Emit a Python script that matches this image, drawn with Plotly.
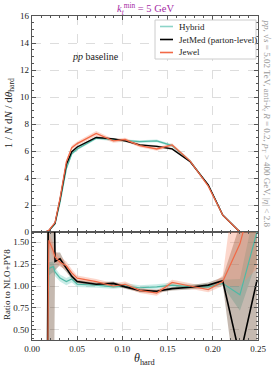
import plotly.graph_objects as go
from plotly.subplots import make_subplots

# ---------------- data ----------------
theta_top = [0.0, 0.0144, 0.0186, 0.0255, 0.031, 0.038, 0.044, 0.050, 0.071, 0.090,
             0.103, 0.119, 0.138, 0.155, 0.175, 0.195, 0.211, 0.230, 0.249]
jetmed_top = [0, 0, 0.10, 0.65, 2.4, 5.0, 5.95, 6.3, 7.0, 6.9, 6.75, 6.45, 6.35, 6.15, 5.2, 3.5, 1.26, 0, 0]
hybrid_top = [0, 0, 0.08, 0.60, 2.2, 4.7, 5.8, 6.15, 6.95, 6.85, 6.75, 6.7, 6.75, 6.4, 5.25, 3.45, 1.25, 0, 0]
jewel_top = [0, 0, 0.12, 0.70, 2.5, 5.2, 6.25, 6.55, 7.3, 6.75, 6.85, 6.4, 6.15, 6.45, 5.25, 3.4, 1.25, 0, 0]
jetmed_top_err = [0, 0, 0.02, 0.05, 0.08, 0.08, 0.08, 0.08, 0.08, 0.07, 0.07, 0.07, 0.07, 0.07, 0.06, 0.05, 0.03, 0, 0]
hybrid_top_err = [0, 0, 0.02, 0.05, 0.08, 0.1, 0.1, 0.1, 0.1, 0.1, 0.1, 0.1, 0.1, 0.1, 0.08, 0.06, 0.04, 0, 0]
jewel_top_err = [0, 0, 0.03, 0.06, 0.12, 0.15, 0.15, 0.15, 0.18, 0.14, 0.14, 0.13, 0.13, 0.13, 0.11, 0.09, 0.06, 0, 0]

theta_ratio = [0.0165, 0.0186, 0.0235, 0.0255, 0.031, 0.038, 0.044, 0.050, 0.071, 0.090,
               0.103, 0.119, 0.138, 0.155, 0.175, 0.195, 0.211, 0.230, 0.249]
jetmed_ratio = [-1.0, 3.0, 3.0, 1.28, 1.31, 1.20, 1.11, 1.05, 1.02, 1.03, 0.99, 0.95, 0.94, 0.97, 0.985, 1.01, 1.06, 0.2, 1.07]
jetmed_lo = [-1, -1, -1, 1.18, 1.24, 1.16, 1.08, 1.03, 1.0, 1.01, 0.97, 0.93, 0.92, 0.95, 0.96, 0.98, 1.02, -0.5, -1]
jetmed_hi = [3, 3, 3, 1.38, 1.38, 1.24, 1.14, 1.07, 1.04, 1.05, 1.01, 0.97, 0.96, 0.99, 1.01, 1.04, 1.10, 1.7, 3]
jewel_ratio = [-1.0, 1.52, 1.40, 1.33, 1.27, 1.23, 1.15, 1.09, 1.05, 1.00, 1.02, 0.95, 0.92, 1.04, 1.00, 0.96, 1.05, 1.48, 2.2]
jewel_lo = [-1, 1.45, 1.32, 1.27, 1.22, 1.19, 1.12, 1.06, 1.02, 0.98, 0.99, 0.92, 0.89, 1.01, 0.97, 0.93, 1.00, 1.0, 1.2]
jewel_hi = [3, 1.60, 1.48, 1.40, 1.33, 1.28, 1.19, 1.12, 1.08, 1.03, 1.05, 0.98, 0.95, 1.07, 1.03, 0.99, 1.12, 2.6, 3]
hybrid_ratio = [-1.0, 1.20, 1.22, 1.16, 1.09, 1.05, 1.08, 1.02, 1.01, 0.99, 1.00, 0.98, 0.99, 1.01, 0.99, 0.99, 1.03, 0.90, 1.62]
hybrid_lo = [-1, 1.12, 1.16, 1.11, 1.05, 1.01, 1.04, 0.99, 0.98, 0.97, 0.98, 0.96, 0.97, 0.99, 0.97, 0.97, 1.0, 0.72, 1.3]
hybrid_hi = [3, 1.27, 1.28, 1.21, 1.13, 1.09, 1.12, 1.05, 1.04, 1.02, 1.03, 1.01, 1.02, 1.04, 1.02, 1.02, 1.07, 1.08, 2.0]

x_ticks = [0.00, 0.05, 0.10, 0.15, 0.20, 0.25]
x_ticklabels = ["0.00", "0.05", "0.10", "0.15", "0.20", "0.25"]
top_ticks = [0, 2, 4, 6, 8, 10, 12, 14, 16]
ratio_ticks = [0.50, 0.75, 1.00, 1.25, 1.50]
ratio_ticklabels = ["0.50", "0.75", "1.00", "1.25", "1.50"]
legend_names = ["Hybrid", "JetMed (parton-level)", "Jewel"]

# ---------------- style ----------------
FONT = "Liberation Serif"
C_HYB = "rgb(80,185,165)"
C_HYB_LEG = "rgb(140,212,200)"
C_HYB_BAND = "rgba(100,200,185,0.35)"
C_JM = "rgb(0,0,0)"
C_JM_BAND = "rgba(90,55,30,0.35)"
C_JW = "rgb(242,105,70)"
C_JW_BAND = "rgba(245,140,110,0.35)"

fig = make_subplots(rows=2, cols=1, shared_xaxes=True, vertical_spacing=0,
                    row_heights=[0.6667, 0.3333])


def band(x, lo, hi, color, row):
    fig.add_trace(go.Scatter(x=list(x) + list(x)[::-1], y=list(hi) + list(lo)[::-1],
                             fill="toself", fillcolor=color, mode="none",
                             line=dict(width=0), showlegend=False, hoverinfo="skip"),
                  row=row, col=1)


# top bands
for y, e, c in [(hybrid_top, hybrid_top_err, C_HYB_BAND), (jetmed_top, jetmed_top_err, C_JM_BAND),
                (jewel_top, jewel_top_err, C_JW_BAND)]:
    band(theta_top, [a - b for a, b in zip(y, e)], [a + b for a, b in zip(y, e)], c, 1)

fig.add_trace(go.Scatter(x=theta_top, y=hybrid_top, mode="lines", name=legend_names[0],
                         showlegend=False, line=dict(color=C_HYB, width=1.3)), row=1, col=1)
fig.add_trace(go.Scatter(x=theta_top, y=jetmed_top, mode="lines", name=legend_names[1],
                         showlegend=False, line=dict(color=C_JM, width=1.3)), row=1, col=1)
fig.add_trace(go.Scatter(x=theta_top, y=jewel_top, mode="lines", name=legend_names[2],
                         showlegend=False, line=dict(color=C_JW, width=1.3)), row=1, col=1)

# ratio bands
band(theta_ratio, hybrid_lo, hybrid_hi, C_HYB_BAND, 2)
band(theta_ratio, jetmed_lo, jetmed_hi, C_JM_BAND, 2)
band(theta_ratio, jewel_lo, jewel_hi, C_JW_BAND, 2)

fig.add_trace(go.Scatter(x=theta_ratio, y=hybrid_ratio, mode="lines", showlegend=False,
                         line=dict(color=C_HYB, width=1.2)), row=2, col=1)
fig.add_trace(go.Scatter(x=theta_ratio, y=jetmed_ratio, mode="lines", showlegend=False,
                         line=dict(color=C_JM, width=1.6)), row=2, col=1)
fig.add_trace(go.Scatter(x=theta_ratio, y=jewel_ratio, mode="lines", showlegend=False,
                         line=dict(color=C_JW, width=1.2)), row=2, col=1)

axis_common = dict(showline=True, linecolor="#555555", linewidth=1.2, mirror="allticks",
                   ticks="inside", ticklen=4, tickcolor="#555555", tickwidth=1,
                   showgrid=True, gridcolor="#dddddd", griddash="dash", gridwidth=0.8,
                   zeroline=False, automargin=False,
                   tickfont=dict(family=FONT, size=9, color="#222222"))

fig.update_xaxes(**axis_common, range=[0, 0.25], tickvals=x_ticks, ticktext=x_ticklabels,
                 minor=dict(ticks="inside", dtick=0.01, ticklen=2, tickcolor="#555555", showgrid=False))
fig.update_xaxes(showticklabels=False, row=1, col=1)
fig.update_yaxes(**axis_common)
fig.update_yaxes(range=[0, 16], tickvals=top_ticks,
                 minor=dict(ticks="inside", dtick=0.5, ticklen=2, tickcolor="#555555", showgrid=False),
                 row=1, col=1)
fig.update_yaxes(range=[0.386, 1.614], tickvals=ratio_ticks, ticktext=ratio_ticklabels,
                 minor=dict(ticks="inside", dtick=0.05, ticklen=2, tickcolor="#555555", showgrid=False),
                 row=2, col=1)

fig.update_layout(
    width=274, height=367,
    margin=dict(l=32, r=16, t=16, b=27, autoexpand=False),
    paper_bgcolor="white", plot_bgcolor="white",
    font=dict(family=FONT, size=9, color="#222222"),
    showlegend=False,
)

# ---- hand-built legend box (paper coords of the plot area: x 32..258 px, y 16..340 px) ----
def px_x(p):
    return (p - 32) / 226.0


def px_y(p):
    return (340 - p) / 324.0


fig.add_shape(type="rect", xref="paper", yref="paper", x0=px_x(155), x1=px_x(256),
              y0=px_y(59), y1=px_y(20), line=dict(color="#cccccc", width=1), fillcolor="white",
              layer="above")
for i, (name, col) in enumerate(zip(legend_names, [C_HYB_LEG, C_JM, C_JW])):
    yy = px_y(26.5 + 13 * i)
    fig.add_shape(type="line", xref="paper", yref="paper", x0=px_x(160), x1=px_x(173),
                  y0=yy, y1=yy, line=dict(color=col, width=1.6), layer="above")
    fig.add_annotation(text=name, xref="paper", yref="paper", x=px_x(177), y=yy,
                       xanchor="left", yanchor="middle", showarrow=False,
                       font=dict(family=FONT, size=9, color="#222222"))

fig.add_annotation(text="<i>k</i><sub><i>t</i></sub><sup>min</sup> = 5 GeV", xref="paper", yref="paper",
                   x=0.5, y=1.0, yshift=7, xanchor="center", yanchor="middle", showarrow=False,
                   font=dict(family=FONT, size=10.5, color="rgb(165,45,165)"))
fig.add_annotation(text="<i>pp</i> baseline", xref="paper", yref="paper",
                   x=0.28, y=0.875, xanchor="center", yanchor="middle", showarrow=False,
                   font=dict(family=FONT, size=10, color="#222222"))
fig.add_annotation(text="<i>pp</i>, √<i>s</i> = 5.02 TeV, anti-<i>k</i><sub><i>t</i></sub> <i>R</i> = 0.2, "
                        "<i>p</i><sub>T</sub> > 400 GeV, |<i>η</i>| < 2.8",
                   xref="paper", yref="paper", x=1.0, xshift=8, y=0.995, xanchor="center",
                   yanchor="top", textangle=90, showarrow=False,
                   font=dict(family=FONT, size=9, color="#999999"))
fig.add_annotation(text="1 / <i>N</i> d<i>N</i> / d<i>θ</i><sub>hard</sub>", xref="paper", yref="paper",
                   x=0, xshift=-23, y=0.70, xanchor="center", yanchor="middle", textangle=-90,
                   showarrow=False, font=dict(family=FONT, size=11, color="#222222"))
fig.add_annotation(text="Ratio to NLO+PY8", xref="paper", yref="paper",
                   x=0, xshift=-25, y=0.17, xanchor="center", yanchor="middle", textangle=-90,
                   showarrow=False, font=dict(family=FONT, size=9, color="#222222"))
fig.add_annotation(text="<i>θ</i><sub>hard</sub>", xref="paper", yref="paper",
                   x=0.5, y=0, yshift=-19, xanchor="center", yanchor="middle", showarrow=False,
                   font=dict(family=FONT, size=12, color="#222222"))

fig.write_html("out.html", config={"displayModeBar": False},
               post_script="document.body.style.margin='0';document.body.style.overflow='hidden';")
